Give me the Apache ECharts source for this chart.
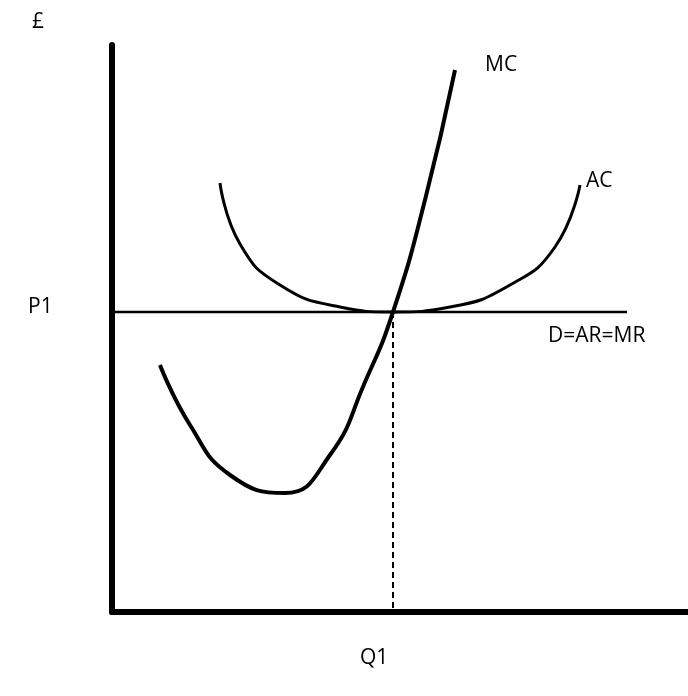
<!DOCTYPE html>
<html><head><meta charset="utf-8">
<script src="https://cdn.jsdelivr.net/npm/echarts@6/dist/echarts.min.js"></script>
<style>html,body{margin:0;background:#fff}#c{width:688px;height:696px}</style>
</head><body><div id="c"></div>
<script>
// quantity / price units (origin at axes corner)
const mcCurve = [[48,247],[78,187],[118,137],[173,119],[218,157],[253,230],[281,300],[313,412],[343,542]];
const acCurve = [[108,429],[128,368],[168,327],[228,305],[281,300],[338,305],[398,327],[443,365],[468,427]];
const demand = [[0,300],[515,300]];
const q1Drop = [[281,300],[281,0]];
const labels = {pound:"£", p1:"P1", q1:"Q1", mc:"MC", ac:"AC", d:"D=AR=MR"};

const chart = echarts.init(document.getElementById('c'));
const line = (data, opts={}) => Object.assign({type:'line', data, smooth:0.5, showSymbol:false, silent:true,
  lineStyle:{color:'#000', width:3}}, opts);
const font = {fontFamily:'Open Sans', fontSize:21, fill:'#000'};
chart.setOption({
  animation:false,
  grid:{left:112, right:0, top:45, bottom:84},
  xAxis:{type:'value', min:0, max:576, axisLine:{lineStyle:{color:'#000', width:6}}, axisTick:{show:false}, axisLabel:{show:false}, splitLine:{show:false}},
  yAxis:{type:'value', min:0, max:567, axisLine:{show:true, lineStyle:{color:'#000', width:6}}, axisTick:{show:false}, axisLabel:{show:false}, splitLine:{show:false}},
  series:[
    line(mcCurve, {lineStyle:{color:'#000', width:4}}),
    line(acCurve),
    line(demand, {smooth:false, lineStyle:{color:'#000', width:2.5}}),
    line(q1Drop, {smooth:false, lineStyle:{color:'#000', width:2, type:[6,4]}})
  ],
  graphic:[
    {type:'text', left:32, top:12, style:Object.assign({text:labels.pound}, font)},
    {type:'text', left:28, top:297, style:Object.assign({text:labels.p1}, font)},
    {type:'text', left:360, top:648, style:Object.assign({text:labels.q1}, font)},
    {type:'text', left:485, top:55, style:Object.assign({text:labels.mc}, font)},
    {type:'text', left:586, top:171, style:Object.assign({text:labels.ac}, font)},
    {type:'text', left:548, top:326, style:Object.assign({text:labels.d}, font)}
  ]
});
</script></body></html>
